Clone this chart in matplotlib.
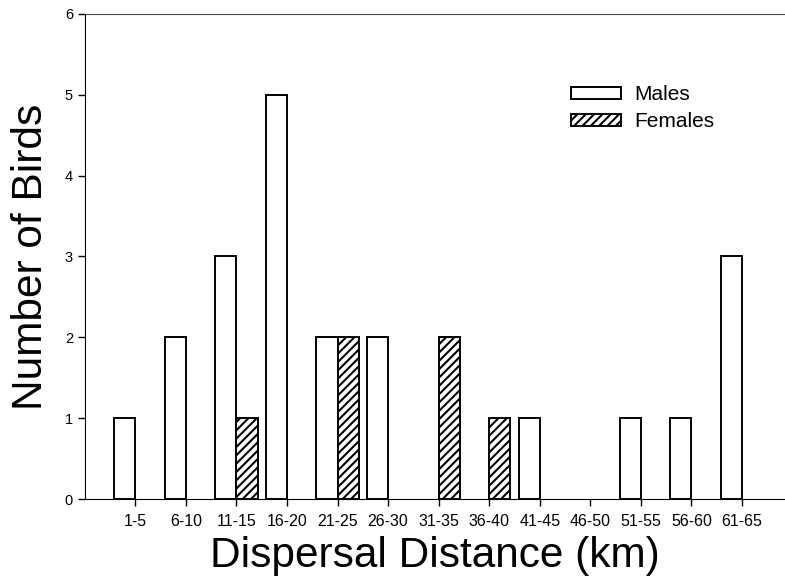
import numpy as np
import matplotlib
matplotlib.use('Agg')
import matplotlib.pyplot as plt

# Data
categories = ['1-5', '6-10', '11-15', '16-20', '21-25', '26-30', '31-35',
              '36-40', '41-45', '46-50', '51-55', '56-60', '61-65']
males = np.array([1, 2, 3, 5, 2, 2, 0, 0, 1, 0, 1, 1, 3])
females = np.array([0, 0, 1, 0, 2, 0, 2, 1, 0, 0, 0, 0, 0])
y_ticks = [0, 1, 2, 3, 4, 5, 6]

plt.rcParams['font.family'] = ['Liberation Sans', 'DejaVu Sans']
plt.rcParams['hatch.linewidth'] = 1.5

fig = plt.figure(figsize=(7.85, 5.79), dpi=100)
ax = fig.add_axes([0.108, 0.138, 0.892, 0.838])

x = np.arange(len(categories))
w = 0.42
m = males > 0
f = females > 0
ax.bar(x[m], males[m], width=-w, align='edge', color='white',
       edgecolor='black', linewidth=1.4, label='Males')
ax.bar(x[f], females[f], width=w, align='edge', color='white',
       edgecolor='black', linewidth=1.4, hatch='////', label='Females')

ax.set_xlim(-1.0, 12.85)
ax.set_ylim(0, 6)
ax.set_xticks(x)
ax.set_xticklabels(categories, fontsize=11.5)
ax.set_yticks(y_ticks)
ax.set_yticklabels([str(t) for t in y_ticks], fontsize=10.5)
ax.tick_params(direction='out', length=5, width=1)
ax.tick_params(axis='x', pad=6)

ax.spines['right'].set_visible(False)
ax.spines['top'].set_color('#444444')
ax.spines['top'].set_linewidth(0.8)

ax.set_xlabel('Dispersal Distance (km)', fontsize=30.5, labelpad=5)
ax.set_ylabel('Number of Birds', fontsize=30.5, labelpad=10)

ax.legend(loc='upper left', bbox_to_anchor=(0.68, 0.875), frameon=False,
          fontsize=15, handlelength=2.4, handleheight=0.5,
          labelspacing=0.4, handletextpad=0.6, borderpad=0)

fig.savefig('out.png', dpi=100)
